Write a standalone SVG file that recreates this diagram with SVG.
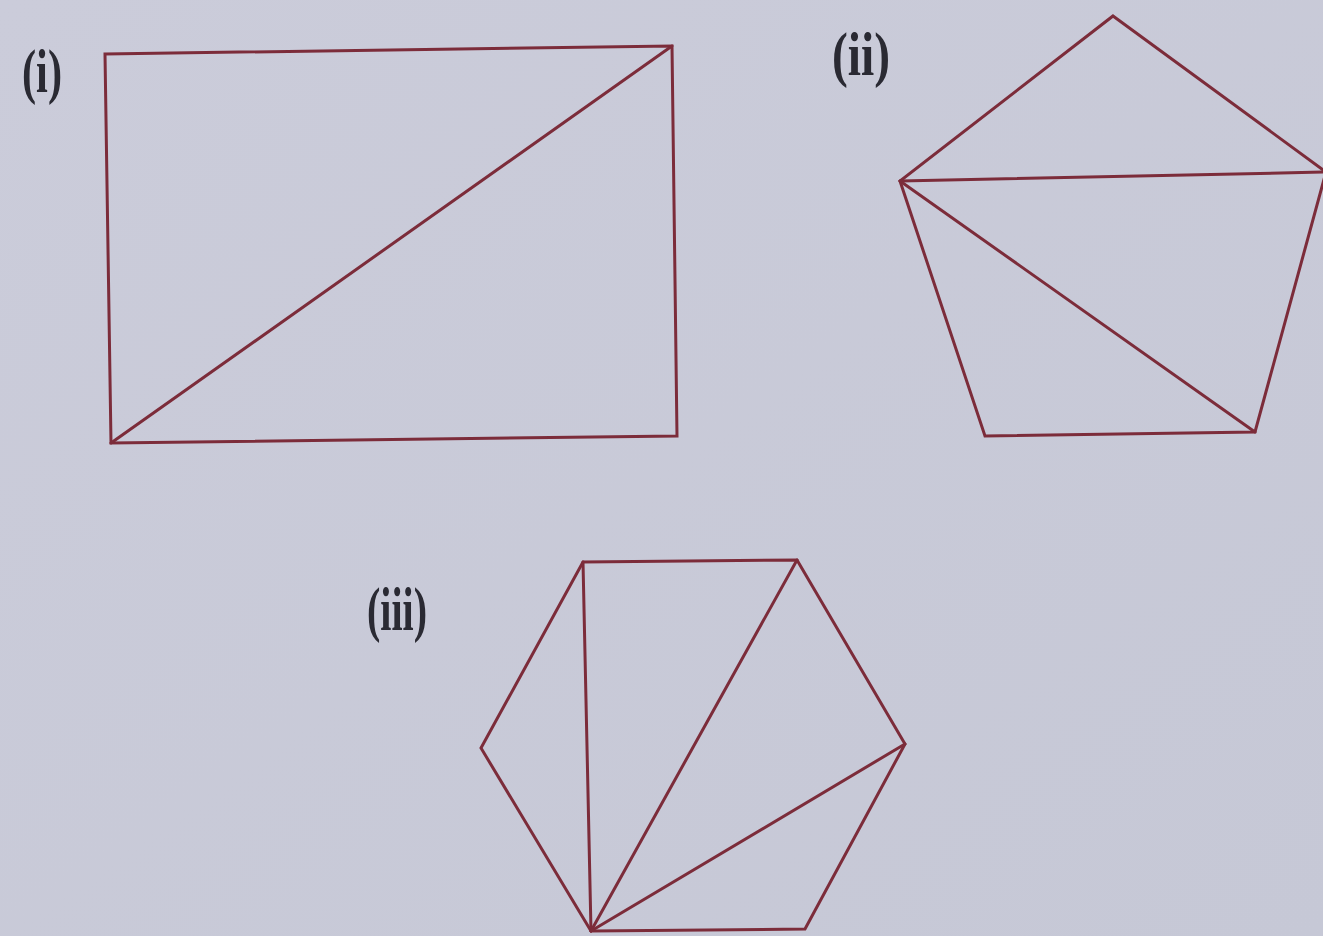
<svg xmlns="http://www.w3.org/2000/svg" width="1323" height="936" viewBox="0 0 1323 936">
<defs>
<linearGradient id="bg" x1="0" y1="0" x2="1" y2="1">
<stop offset="0" stop-color="#cbccda"/>
<stop offset="1" stop-color="#c6c8d6"/>
</linearGradient>
</defs>
<style>
.edge{fill:none;stroke:#7c2c3a;stroke-width:3;stroke-linejoin:miter;stroke-linecap:round}
.lbl{font-family:"Liberation Serif","Times New Roman",serif;font-weight:bold;font-size:62px;fill:#2a2a33}
</style>
<rect width="1323" height="936" fill="url(#bg)"/>
<g id="fig-i">
<text class="lbl" x="22" y="92" textLength="40" lengthAdjust="spacingAndGlyphs">(i)</text>
<polygon class="edge" points="105,54 672,46 677,436 111,443"/>
<line class="edge" x1="111" y1="443" x2="672" y2="46"/>
</g>
<g id="fig-ii">
<text class="lbl" x="832" y="75" textLength="58" lengthAdjust="spacingAndGlyphs">(ii)</text>
<polygon class="edge" points="1113,16 1326,172 1255,432 985,436 900,181"/>
<line class="edge" x1="900" y1="181" x2="1326" y2="172"/>
<line class="edge" x1="900" y1="181" x2="1255" y2="432"/>
</g>
<g id="fig-iii">
<text class="lbl" x="367" y="630" textLength="60" lengthAdjust="spacingAndGlyphs">(iii)</text>
<polygon class="edge" points="583,562 797,560 905,744 805,929 591,931 481,748"/>
<line class="edge" x1="591" y1="931" x2="583" y2="562"/>
<line class="edge" x1="591" y1="931" x2="797" y2="560"/>
<line class="edge" x1="591" y1="931" x2="905" y2="744"/>
</g>
</svg>
